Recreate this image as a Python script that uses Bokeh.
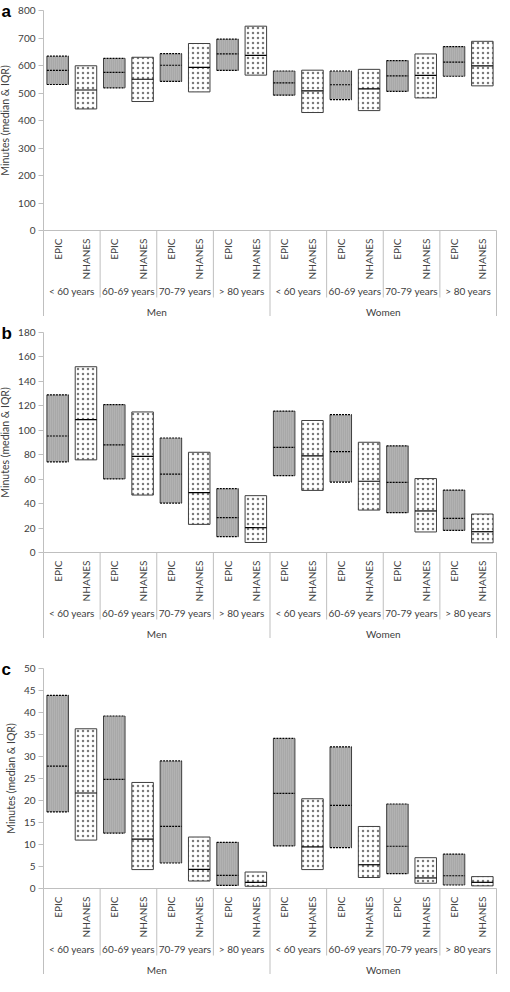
import math
from bokeh.plotting import figure
from bokeh.models import Range1d, FixedTicker, ColumnDataSource
from bokeh.layouts import column
from bokeh.embed import file_html
from bokeh.resources import INLINE
from bokeh.core.properties import value

# ---------------- data ----------------
sexes = ["Men", "Women"]
age_groups = ["< 60 years", "60-69 years", "70-79 years", "> 80 years"]
sources = ["EPIC", "NHANES"]

# order: Men(<60 EPIC, <60 NHANES, 60-69 EPIC, ...), Women(...)
a_q1 = [531, 442, 519, 469, 542, 504, 582, 565,
        492, 429, 476, 436, 506, 482, 561, 526]
a_med = [582, 511, 575, 550, 601, 593, 642, 637,
         537, 508, 530, 515, 562, 564, 612, 599]
a_q3 = [634, 599, 626, 630, 643, 680, 696, 743,
        580, 583, 580, 586, 618, 642, 669, 688]
a_ticks = [0, 100, 200, 300, 400, 500, 600, 700, 800]

b_q1 = [74.2, 75.8, 60.2, 47.0, 40.4, 23.0, 13.0, 8.2,
        62.9, 50.8, 57.6, 34.7, 32.6, 16.8, 18.1, 7.9]
b_med = [95.3, 108.7, 88.0, 78.7, 64.2, 49.0, 28.6, 20.3,
         86.0, 79.0, 82.5, 58.3, 57.3, 34.0, 28.0, 17.0]
b_q3 = [129.0, 152.0, 121.0, 115.0, 93.7, 82.0, 52.2, 46.5,
        115.7, 108.0, 112.8, 90.2, 87.3, 60.5, 51.1, 31.5]
b_ticks = [0, 20, 40, 60, 80, 100, 120, 140, 160, 180]

c_q1 = [17.4, 11.0, 12.6, 4.3, 5.8, 1.7, 0.7, 0.5,
        9.7, 4.3, 9.3, 2.5, 3.4, 1.2, 0.8, 0.6]
c_med = [27.8, 21.7, 24.8, 11.2, 14.1, 4.35, 3.0, 1.4,
         21.6, 9.45, 18.9, 5.4, 9.6, 2.4, 2.9, 1.4]
c_q3 = [43.9, 36.3, 39.2, 24.1, 29.0, 11.7, 10.5, 3.75,
        34.1, 20.4, 32.2, 14.1, 19.2, 7.0, 7.8, 2.7]
c_ticks = [0, 5, 10, 15, 20, 25, 30, 35, 40, 45, 50]

FONT = "Lato"
TXT = "#404040"
GRID = "#bfbfbf"

categories = [(s, a, src) for s in sexes for a in age_groups for src in sources]
n_cat = len(categories)
n_src = len(sources)
n_age = len(age_groups)

FIG_W = 497          # whole figure is the frame
LEFT_PX = 43         # room for the y axis inside the frame
PLOT_PX = 453        # width of the 16 categories
HEAD_PX = 10
AXIS_PX = 220
CAT_PX = 86


def make_panel(letter, q1, med, q3, ticks, border_top):
    ppu = PLOT_PX / n_cat
    x0 = -LEFT_PX / ppu
    x1 = x0 + FIG_W / ppu
    ymax = ticks[-1]
    upp = ymax / AXIS_PX
    ymin = -CAT_PX * upp
    ytop = ymax + HEAD_PX * upp
    frame_h = HEAD_PX + AXIS_PX + CAT_PX
    h = frame_h + border_top

    p = figure(width=FIG_W, height=h,
               x_range=Range1d(x0, x1),
               y_range=Range1d(ymin, ytop),
               x_axis_type=None,
               output_backend="svg", toolbar_location=None,
               min_border_left=0, min_border_right=0,
               min_border_top=border_top, min_border_bottom=0)
    p.outline_line_color = None
    p.grid.visible = False
    p.background_fill_color = "white"
    p.border_fill_color = "white"

    # y axis, placed inside the frame at x = 0
    ax = p.yaxis[0]
    ax.fixed_location = 0
    ax.ticker = FixedTicker(ticks=ticks)
    ax.bounds = (0, ymax)
    ax.axis_line_color = GRID
    ax.major_tick_line_color = GRID
    ax.major_tick_out = 5
    ax.major_tick_in = 0
    ax.minor_tick_line_color = None
    ax.major_label_text_font = FONT
    ax.major_label_text_font_size = "10px"
    ax.major_label_text_color = TXT
    ax.major_label_standoff = 3
    ax.axis_label = "Minutes (median & IQR)"
    ax.axis_label_text_font = FONT
    ax.axis_label_text_font_size = "10.5px"
    ax.axis_label_text_font_style = "normal"
    ax.axis_label_text_color = TXT
    ax.axis_label_standoff = 4

    xs = [i + 0.5 for i in range(n_cat)]
    hw = 0.38
    epic = [i for i, c in enumerate(categories) if c[2] == "EPIC"]
    nh = [i for i, c in enumerate(categories) if c[2] == "NHANES"]

    # EPIC boxes
    se = ColumnDataSource(dict(
        l=[xs[i] - hw for i in epic], r=[xs[i] + hw for i in epic],
        b=[q1[i] for i in epic], t=[q3[i] for i in epic],
        m=[med[i] for i in epic]))
    p.quad(left="l", right="r", bottom="b", top="t", source=se,
           fill_color="#b2b2b2", hatch_pattern="vertical_line",
           hatch_color="#9e9e9e", hatch_scale=2, hatch_weight=1,
           line_color=None)
    p.segment(x0="l", x1="l", y0="b", y1="t", source=se, line_color="#3f3f3f", line_width=1)
    p.segment(x0="r", x1="r", y0="b", y1="t", source=se, line_color="#3f3f3f", line_width=1)
    for key in ("b", "t", "m"):
        p.segment(x0="l", x1="r", y0=key, y1=key, source=se,
                  line_color="black", line_width=1.2, line_dash="2 1")

    # NHANES boxes
    sn = ColumnDataSource(dict(
        l=[xs[i] - hw for i in nh], r=[xs[i] + hw for i in nh],
        b=[q1[i] for i in nh], t=[q3[i] for i in nh],
        m=[med[i] for i in nh]))
    p.quad(left="l", right="r", bottom="b", top="t", source=sn,
           fill_color="white", hatch_pattern="dot",
           hatch_color="#7a7a7a", hatch_scale=5, hatch_weight=1,
           line_color="#3f3f3f", line_width=1)
    p.segment(x0="l", x1="r", y0="m", y1="m", source=sn,
              line_color="black", line_width=1.2)

    # category axis below zero
    p.segment(x0=[0], x1=[n_cat], y0=[0], y1=[0], line_color=GRID, line_width=1)
    short_x = [k * n_src for k in range(1, n_cat // n_src) if (k * n_src) % (n_src * n_age) != 0]
    long_x = [k * n_src * n_age for k in range(0, len(sexes) + 1)]
    p.segment(x0=short_x, x1=short_x, y0=[0] * len(short_x),
              y1=[-67 * upp] * len(short_x), line_color=GRID, line_width=1)
    p.segment(x0=long_x, x1=long_x, y0=[0] * len(long_x),
              y1=[ymin] * len(long_x), line_color=GRID, line_width=1)

    p.text(x=xs, y=[0] * n_cat, text=[c[2] for c in categories],
           angle=math.pi / 2, text_align="right", text_baseline="middle",
           y_offset=8, text_font=value(FONT), text_font_size="10px",
           text_color=TXT)
    age_x = [k * n_src + n_src / 2 for k in range(len(sexes) * n_age)]
    age_t = [a for s in sexes for a in age_groups]
    p.text(x=age_x, y=[0] * len(age_x), text=age_t, text_align="center",
           text_baseline="middle", y_offset=60, text_font=value(FONT),
           text_font_size="10px", text_color=TXT)
    sex_x = [k * n_src * n_age + n_src * n_age / 2 for k in range(len(sexes))]
    p.text(x=sex_x, y=[0] * len(sex_x), text=sexes, text_align="center",
           text_baseline="middle", y_offset=81, text_font=value(FONT),
           text_font_size="10px", text_color=TXT)

    # panel letter
    p.text(x=[x0], y=[ymax], text=[letter], x_offset=1, y_offset=1,
           text_align="left", text_baseline="middle",
           text_font=value("Liberation Sans"), text_font_size="17px",
           text_font_style="bold", text_color="black")
    return p


p1 = make_panel("a", a_q1, a_med, a_q3, a_ticks, 0)
p2 = make_panel("b", b_q1, b_med, b_q3, b_ticks, 6)
p3 = make_panel("c", c_q1, c_med, c_q3, c_ticks, 20)

layout = column(p1, p2, p3, spacing=0)
open("out.html", "w").write(file_html(layout, INLINE))
